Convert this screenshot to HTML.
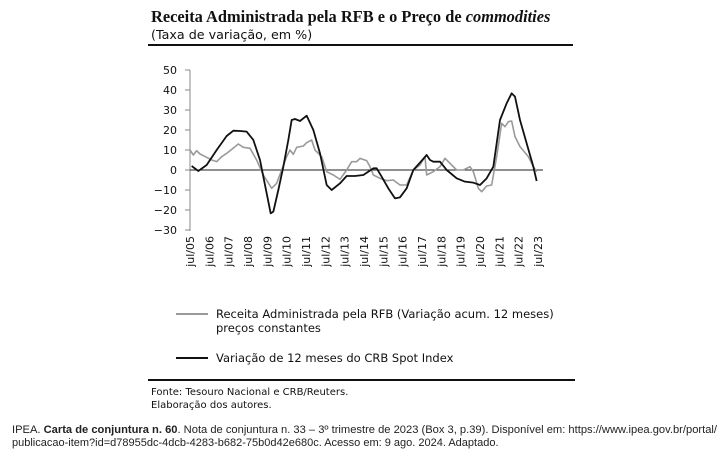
<!DOCTYPE html>
<html><head><meta charset="utf-8"><style>
body{margin:0;background:#fff;width:723px;height:456px;overflow:hidden}
svg{display:block}
</style></head><body>
<svg width="723" height="456" viewBox="0 0 723 456" xmlns="http://www.w3.org/2000/svg">
<text x="151" y="22" font-family="Liberation Serif, serif" font-weight="bold" font-size="16.4" fill="#111">Receita Administrada pela RFB e o Preço de <tspan font-style="italic">commodities</tspan></text>
<text x="151" y="39" font-family="DejaVu Sans, sans-serif" font-size="12.7" fill="#111">(Taxa de variação, em %)</text>
<rect x="148" y="44" width="425" height="2" fill="#111"/>
<g font-family="DejaVu Sans, sans-serif" font-size="11" fill="#111" text-anchor="end">
<text x="177" y="74">50</text><text x="177" y="94">40</text><text x="177" y="114">30</text><text x="177" y="134">20</text><text x="177" y="154">10</text><text x="177" y="174">0</text><text x="177" y="194">−10</text><text x="177" y="214">−20</text><text x="177" y="234">−30</text>
</g>
<g stroke="#888" stroke-width="1">
<line x1="190" y1="70" x2="190" y2="231"/>
<line x1="185" y1="70" x2="190" y2="70"/><line x1="185" y1="90" x2="190" y2="90"/><line x1="185" y1="110" x2="190" y2="110"/><line x1="185" y1="130" x2="190" y2="130"/><line x1="185" y1="150" x2="190" y2="150"/><line x1="185" y1="170" x2="190" y2="170"/><line x1="185" y1="190" x2="190" y2="190"/><line x1="185" y1="210" x2="190" y2="210"/><line x1="185" y1="230" x2="190" y2="230"/>
</g>
<line x1="190" y1="170" x2="543" y2="170" stroke="#222" stroke-width="1"/>
<g font-family="DejaVu Sans, sans-serif" font-size="11" fill="#111" text-anchor="end">
<text transform="translate(194,236) rotate(-90)">jul/05</text>
<text transform="translate(213.3,236) rotate(-90)">jul/06</text>
<text transform="translate(232.7,236) rotate(-90)">jul/07</text>
<text transform="translate(252,236) rotate(-90)">jul/08</text>
<text transform="translate(271.3,236) rotate(-90)">jul/09</text>
<text transform="translate(290.7,236) rotate(-90)">jul/10</text>
<text transform="translate(310,236) rotate(-90)">jul/11</text>
<text transform="translate(329.3,236) rotate(-90)">jul/12</text>
<text transform="translate(348.7,236) rotate(-90)">jul/13</text>
<text transform="translate(368,236) rotate(-90)">jul/14</text>
<text transform="translate(387.3,236) rotate(-90)">jul/15</text>
<text transform="translate(406.7,236) rotate(-90)">jul/16</text>
<text transform="translate(426,236) rotate(-90)">jul/17</text>
<text transform="translate(445.3,236) rotate(-90)">jul/18</text>
<text transform="translate(464.7,236) rotate(-90)">jul/19</text>
<text transform="translate(484,236) rotate(-90)">jul/20</text>
<text transform="translate(503.3,236) rotate(-90)">jul/21</text>
<text transform="translate(522.7,236) rotate(-90)">jul/22</text>
<text transform="translate(542,236) rotate(-90)">jul/23</text>
</g>
<g transform="translate(140,60) scale(0.33333)" fill="none" stroke-linejoin="round">
<polyline vector-effect="non-scaling-stroke" stroke="#9a9a9a" stroke-width="1.6" points="150,270 160,285 170,272 180,282 200,292 215,300 230,305 245,290 260,280 275,268 295,252 310,262 330,265 350,300 370,345 395,385 410,370 425,330 440,290 450,270 460,283 470,262 490,258 500,248 515,240 525,270 545,290 560,335 580,345 600,358 620,330 635,305 650,305 660,295 680,302 690,320 700,345 720,355 740,362 760,360 780,375 800,375 820,330 840,315 855,290 860,345 880,335 900,320 915,295 935,315 950,330 970,330 990,320 1000,335 1015,385 1025,395 1040,378 1055,375 1070,290 1085,190 1095,200 1105,185 1115,183 1125,230 1140,260 1165,290 1180,320 1190,335"/>
<polyline vector-effect="non-scaling-stroke" stroke="#111" stroke-width="1.8" points="155,318 175,333 200,315 230,270 260,228 280,212 300,213 320,215 340,240 360,300 380,400 392,460 400,455 415,390 430,320 445,240 455,180 465,177 480,183 500,167 520,210 540,280 560,375 575,390 600,370 620,348 645,348 670,345 700,325 710,325 725,350 745,385 765,415 780,412 800,385 820,330 840,308 860,285 870,300 880,305 900,305 920,330 950,355 975,365 1000,368 1020,375 1040,355 1060,320 1080,180 1100,130 1115,100 1125,110 1140,180 1160,250 1180,320 1190,363"/>
</g>
<line x1="176" y1="314" x2="208" y2="314" stroke="#9a9a9a" stroke-width="2"/>
<line x1="176" y1="358" x2="208" y2="358" stroke="#111" stroke-width="2"/>
<g font-family="DejaVu Sans, sans-serif" font-size="11.5" fill="#111">
<text x="216" y="318">Receita Administrada pela RFB (Variação acum. 12 meses)</text>
<text x="216" y="332">preços constantes</text>
<text x="216" y="362">Variação de 12 meses do CRB Spot Index</text>
</g>
<rect x="148" y="379" width="427" height="2" fill="#111"/>
<g font-family="DejaVu Sans, sans-serif" font-size="10" fill="#111">
<text x="151" y="395">Fonte: Tesouro Nacional e CRB/Reuters.</text>
<text x="151" y="408">Elaboração dos autores.</text>
</g>
<g font-family="Liberation Sans, sans-serif" font-size="11" fill="#222">
<text x="12" y="433" textLength="705" lengthAdjust="spacingAndGlyphs">IPEA. <tspan font-weight="bold">Carta de conjuntura n. 60</tspan>. Nota de conjuntura n. 33 – 3º trimestre de 2023 (Box 3, p.39). Disponível em: https://www.ipea.gov.br/portal/</text>
<text x="12" y="446">publicacao-item?id=d78955dc-4dcb-4283-b682-75b0d42e680c. Acesso em: 9 ago. 2024. Adaptado.</text>
</g>
</svg>
</body></html>
